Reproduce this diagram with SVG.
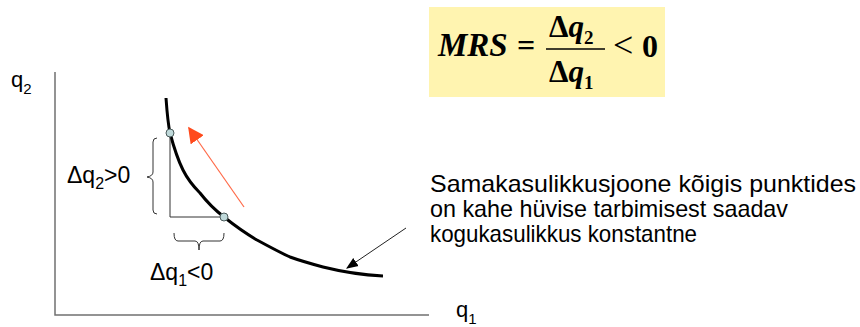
<svg xmlns="http://www.w3.org/2000/svg" width="860" height="327" viewBox="0 0 860 327">
<defs>
<style>
.sans{font-family:"Liberation Sans",Arial,sans-serif;fill:#000}
.ser{font-family:"Liberation Serif","Times New Roman",serif;font-weight:bold;fill:#000}
.it{font-style:italic}
.axis{stroke:#707070;stroke-width:1.5;fill:none}
.thin{stroke:#333;stroke-width:1;fill:none}
.brace{stroke:#333;stroke-width:1;fill:none}
.pt{fill:#BFD9DA;stroke:#4a5a5a;stroke-width:1}
</style>
<marker id="redhead" viewBox="0 0 10 10" refX="9" refY="5" markerWidth="16" markerHeight="16" markerUnits="userSpaceOnUse" orient="auto">
<path d="M0,0 L10,5 L0,10 z" fill="#FF4A1C"/>
</marker>
<marker id="blackhead" viewBox="0 0 10 10" refX="9" refY="5" markerWidth="12" markerHeight="12" markerUnits="userSpaceOnUse" orient="auto">
<path d="M0,1 L10,5 L0,9 z" fill="#000"/>
</marker>
</defs>
<g id="formula">
<rect x="429" y="7" width="236" height="90" fill="#FFF4B0"/>
<text class="ser it" x="438" y="56" font-size="33">MRS</text>
<text class="ser" x="517" y="56" font-size="32">=</text>
<text class="ser" x="549" y="37" font-size="31">Δ<tspan class="it">q</tspan><tspan font-size="19" dy="7">2</tspan></text>
<line x1="546" y1="49" x2="605" y2="49" stroke="#000" stroke-width="1.5"/>
<text class="ser" x="549" y="82" font-size="31">Δ<tspan class="it">q</tspan><tspan font-size="19" dy="7">1</tspan></text>
<text x="613" y="57" font-size="36" font-family="Liberation Serif, Times New Roman, serif">&lt;</text>
<text class="ser" x="642" y="57" font-size="32">0</text>
</g>
<g id="axes">
<polyline class="axis" points="55,72 55,315 429,315"/>
<text class="sans" x="11" y="87" font-size="22">q<tspan font-size="15" dy="7">2</tspan></text>
<text class="sans" x="456" y="317" font-size="22">q<tspan font-size="15" dy="7">1</tspan></text>
</g>
<g id="curve">
<path d="M166,98 C167,112 168,124 170,133 C174,148 178,160 183,170 C188,180 194,187 200,193 C207,202 215,210 224,217 C234,225 245,233 257,240 C268,246 279,252 290,257 C301,261 312,264 323,267 C343,272 363,275 383,276" fill="none" stroke="#000" stroke-width="3"/>
</g>
<g id="triangle">
<polyline class="thin" points="170,133 170,217 224,217"/>
</g>
<g id="brace-q2">
<path class="brace" d="M157,138 Q153,138 153,142 L153,172 Q153,176 147,177 Q153,178 153,182 L153,210 Q153,214 157,214"/>
<text class="sans" x="67" y="183" font-size="23">Δq<tspan font-size="16" dy="6">2</tspan><tspan dy="-6">&gt;0</tspan></text>
</g>
<g id="brace-q1">
<path class="brace" d="M174,233 Q174,241 178,241 L195,241 Q199,241 199,250 Q199,241 203,241 L220,241 Q224,241 224,233"/>
<text class="sans" x="150" y="280" font-size="23">Δq<tspan font-size="16" dy="6">1</tspan><tspan dy="-6">&lt;0</tspan></text>
</g>
<g id="points">
<circle class="pt" cx="170" cy="133" r="4"/>
<circle class="pt" cx="224" cy="217" r="4"/>
</g>
<g id="connectors">
<line x1="244" y1="207" x2="189" y2="128" stroke="#FF6A48" stroke-width="1.2" marker-end="url(#redhead)"/>
<line x1="406" y1="228" x2="347" y2="268" stroke="#222" stroke-width="1" marker-end="url(#blackhead)"/>
</g>
<g id="note">
<text class="sans" font-size="24" lengthAdjust="spacingAndGlyphs"><tspan x="430" y="192" textLength="426" lengthAdjust="spacingAndGlyphs">Samakasulikkusjoone kõigis punktides</tspan></text>
<text class="sans" font-size="24"><tspan x="430" y="217" textLength="358" lengthAdjust="spacingAndGlyphs">on kahe hüvise tarbimisest saadav</tspan></text>
<text class="sans" font-size="24"><tspan x="430" y="242" textLength="267" lengthAdjust="spacingAndGlyphs">kogukasulikkus konstantne</tspan></text>
</g>
</svg>
